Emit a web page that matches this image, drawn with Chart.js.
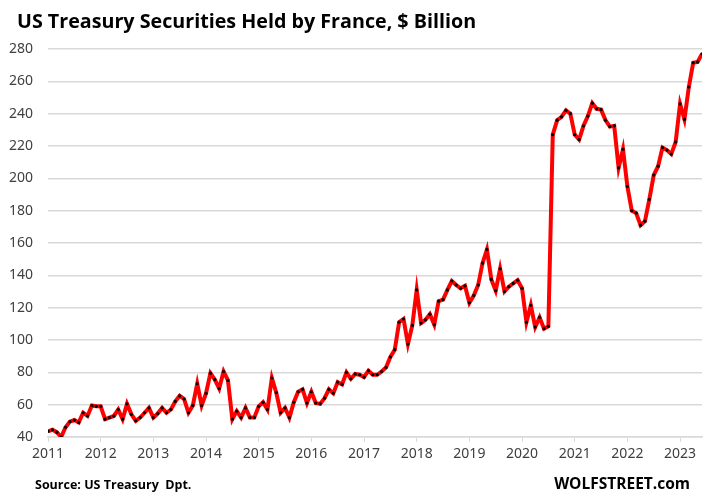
<!DOCTYPE html>
<html>
<head>
<meta charset="utf-8">
<script src="https://cdn.jsdelivr.net/npm/chart.js@4.4.0/dist/chart.umd.min.js"></script>
<style>
    html, body { margin: 0; padding: 0; background: #fff; }
    #wrap { position: relative; width: 720px; height: 500px; }
    .note { position: absolute; font-family: 'Open Sans', sans-serif; font-weight: bold; color: #000; white-space: pre; }
</style>
</head>
<body>
<div id="wrap">
    <canvas id="franceChart"></canvas>
    <div class="note" style="left:17px; top:7px; font-size:19.7px;">US Treasury Securities Held by France, $ Billion</div>
    <div class="note" style="left:35px; top:476px; font-size:12.5px;">Source: US Treasury  Dpt.</div>
    <div class="note" style="right:30px; top:472px; font-size:15.5px;">WOLFSTREET.com</div>
</div>
<script>
// monthly holdings, Jan 2011 .. Jun 2023, $ billion
const startYear = 2011;
const holdings = [
    43.5, 44.5, 43, 40, 46, 49.5, 50.5, 49, 55, 53, 59.5, 59,          // 2011
    59, 51, 52, 53, 57, 51, 60.5, 54, 50, 52, 55, 58,                   // 2012
    52, 54.5, 58, 55, 57, 62, 65.5, 63.5, 55, 59.5, 73, 59.5,           // 2013
    67, 79.5, 75.5, 70, 80.5, 75, 51, 56, 52, 58, 52, 52,               // 2014
    59, 61.5, 57, 76.5, 67.5, 55, 58, 52, 61.5, 68, 69.5, 61,           // 2015
    68, 61, 60.5, 64, 69.5, 67, 74, 72.5, 80, 76, 79, 78.5,             // 2016
    77, 81, 78.5, 78.5, 80.5, 83, 89.5, 94, 111, 113, 97.5, 109,        // 2017
    131, 110.5, 112.5, 116, 109.5, 124, 125, 131, 136.5, 134, 132, 133.5, // 2018
    123, 127.5, 134, 147.5, 156, 137.5, 130.5, 144, 130, 133, 135, 137, // 2019
    132, 111, 121.5, 108, 114, 107, 108.5, 227, 236, 238, 242, 240,     // 2020
    227, 224, 232.5, 238.5, 246.5, 243, 242.5, 236, 232, 232.5, 206.5, 218, // 2021
    195, 180, 178.5, 171, 173.5, 187, 202, 207.5, 219, 217.5, 215, 222.5,   // 2022
    246, 236.5, 256.5, 271.5, 272, 277                                  // 2023
];
const yearLabels = ['2011', '2012', '2013', '2014', '2015', '2016', '2017',
                    '2018', '2019', '2020', '2021', '2022', '2023'];
const yTicks = [40, 60, 80, 100, 120, 140, 160, 180, 200, 220, 240, 260, 280];

const points = holdings.map((v, i) => ({ x: startYear + i / 12, y: v }));
const tickFont = { family: "'Noto Sans', sans-serif", size: 14 };

new Chart(document.getElementById('franceChart'), {
    type: 'line',
    data: {
        datasets: [{
            data: points,
            borderColor: '#ff0000',
            borderWidth: 4,
            pointRadius: 1.6,
            pointBackgroundColor: '#000',
            pointBorderWidth: 0,
            tension: 0,
            fill: false
        }]
    },
    options: {
        responsive: true,
        maintainAspectRatio: false,
        animation: false,
        layout: { padding: { left: 0, right: 18, top: 49, bottom: 33 } },
        plugins: {
            legend: { display: false },
            tooltip: { enabled: false }
        },
        scales: {
            x: {
                type: 'linear',
                min: startYear,
                max: startYear + (holdings.length - 1) / 12,
                afterFit: s => { s.height = 30; },
                afterBuildTicks: s => { s.ticks = yearLabels.map(l => ({ value: Number(l) })); },
                ticks: {
                    autoSkip: false,
                    maxRotation: 0,
                    padding: 4,
                    color: '#404040',
                    font: tickFont,
                    callback: (v, i) => yearLabels[i]
                },
                grid: { display: true, drawOnChartArea: false, tickLength: 5, color: '#d9d9d9' },
                border: { color: '#d9d9d9', width: 1.5 }
            },
            y: {
                min: 40,
                max: 280,
                afterFit: s => { s.width = 48; },
                afterBuildTicks: s => { s.ticks = yTicks.map(v => ({ value: v })); },
                ticks: { padding: 15, color: '#404040', font: tickFont },
                grid: { color: '#d9d9d9', lineWidth: 1.5, drawTicks: false },
                border: { display: false }
            }
        }
    }
});
</script>
</body>
</html>
